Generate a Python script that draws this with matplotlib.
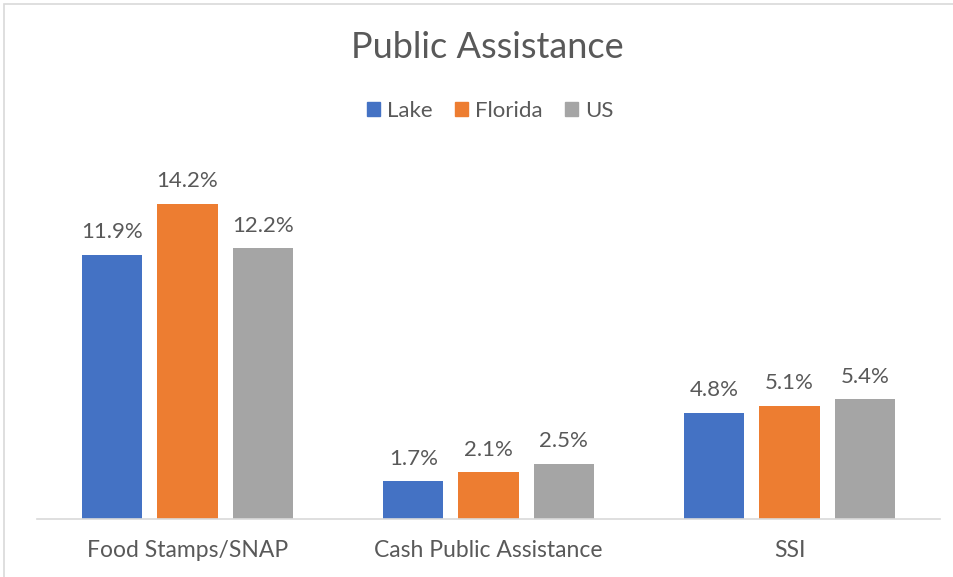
import matplotlib
matplotlib.use("Agg")
import matplotlib.pyplot as plt
from matplotlib.patches import Rectangle, Patch
import numpy as np

categories = ["Food Stamps/SNAP", "Cash Public Assistance", "SSI"]
series_names = ["Lake", "Florida", "US"]
lake = [11.9, 1.7, 4.8]
florida = [14.2, 2.1, 5.1]
us = [12.2, 2.5, 5.4]
colors = ["#4472C4", "#ED7D31", "#A5A5A5"]

plt.rcParams['font.family'] = ['Lato', 'DejaVu Sans']
txt = "#595959"

W, H = 954, 577
fig = plt.figure(figsize=(W/100, H/100), dpi=100)
ax = fig.add_axes([37/W, 1-519/H, (940-37)/W, (519-164)/H])

x = np.arange(len(categories))
bw = 0.2
step = 0.25
for i, (vals, name, c) in enumerate(zip([lake, florida, us], series_names, colors)):
    pos = x + (i-1)*step
    ax.bar(pos, vals, width=bw, color=c, label=name, zorder=2)
    for p, v in zip(pos, vals):
        ax.annotate(f"{v:.1f}%", (p, v), xytext=(0, 12), textcoords="offset points",
                    ha="center", va="baseline", fontsize=16, color=txt)

ax.set_xlim(-0.5, 2.5)
ax.set_ylim(0, 16)
ax.set_yticks([])
ax.set_xticks(x)
ax.set_xticklabels(categories, fontsize=16.5, color=txt)
ax.tick_params(axis='x', length=0, pad=15)
for s in ["top", "right", "left"]:
    ax.spines[s].set_visible(False)
ax.spines["bottom"].set_color("#D9D9D9")
ax.spines["bottom"].set_linewidth(1.2)

fig.text(487/W, 1-48/H, "Public Assistance", ha="center", va="center",
         fontsize=26, color=txt)

handles = [Patch(color=c) for c in colors]
fig.legend(handles, series_names, loc="center", bbox_to_anchor=(490/W, 1-111/H),
           ncol=3, frameon=False, fontsize=16, labelcolor=txt,
           handlelength=0.6, handleheight=0.6, handletextpad=0.3, columnspacing=1.0)

fig.patches.append(Rectangle((4/W, -0.1), 1.2, 1.1 - 4/H, transform=fig.transFigure,
                             fill=False, edgecolor="#D9D9D9", linewidth=1.2))

fig.savefig("out.png", dpi=100)
